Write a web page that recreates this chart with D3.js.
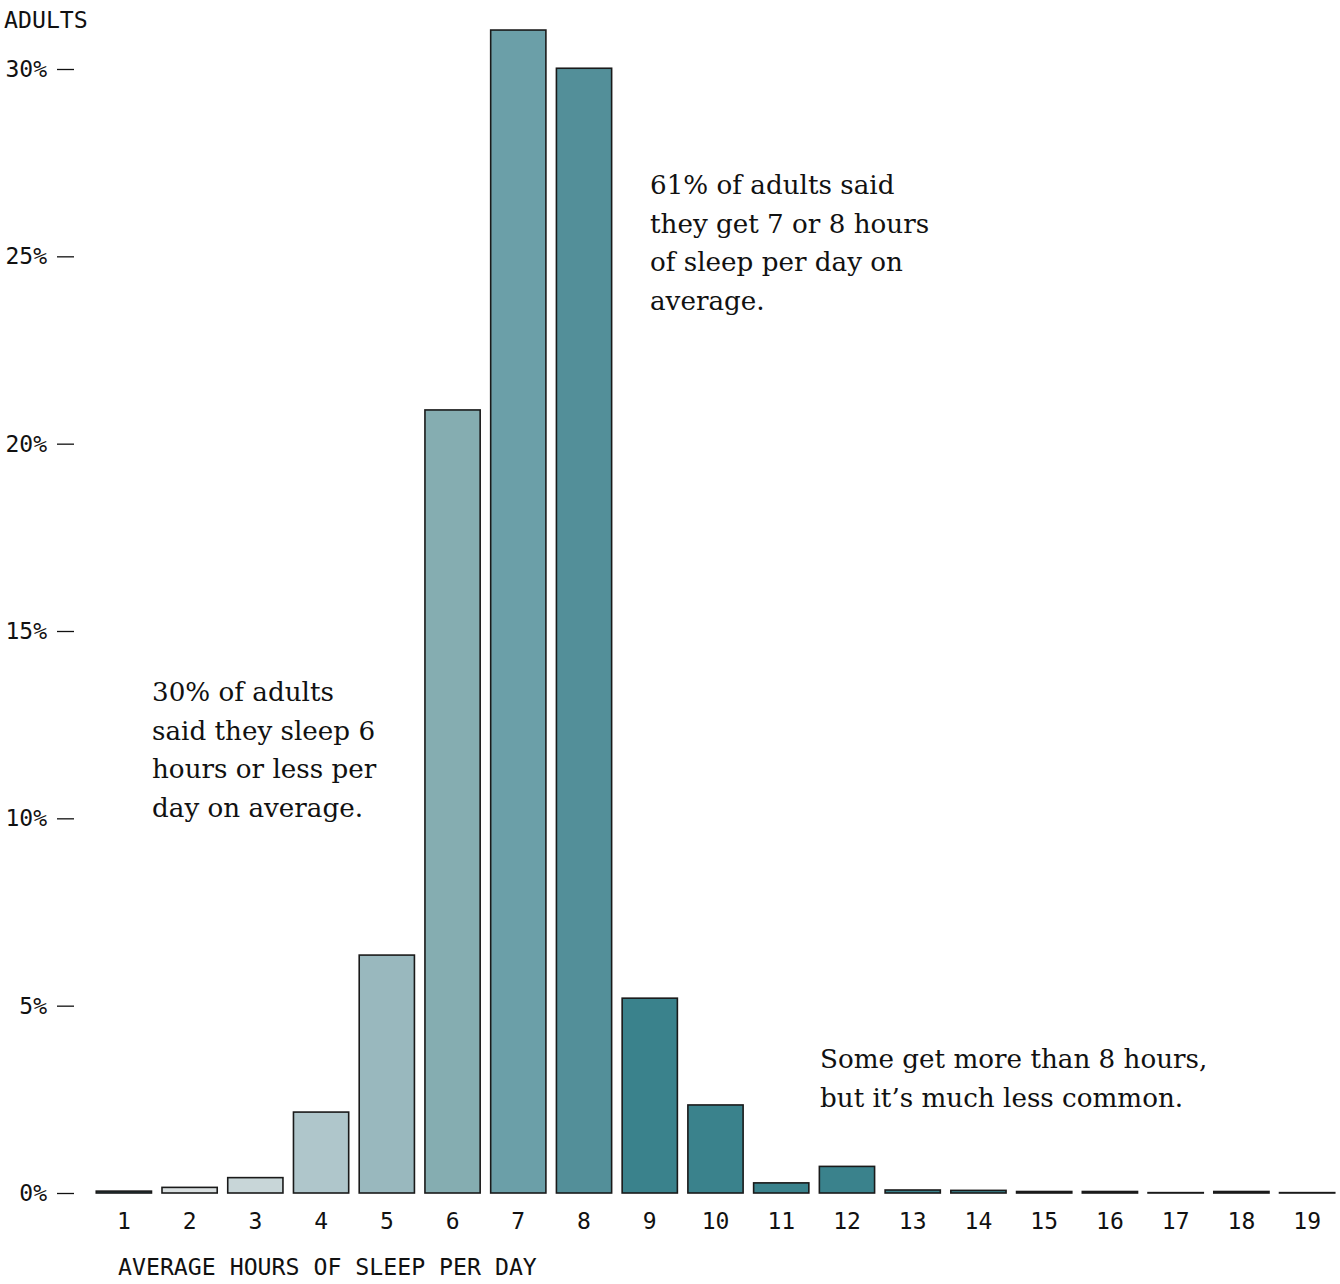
<!DOCTYPE html>
<html><head><meta charset="utf-8">
<script src="https://cdn.jsdelivr.net/npm/d3@7"></script>
<style>
body{margin:0;background:#fff;}
svg{display:block;}
.mono{font-family:"DejaVu Sans Mono",monospace;}
.serif{font-family:"DejaVu Serif",serif;}
</style></head>
<body>
<svg id="chart" width="1340" height="1284"></svg>
<script>
const hours = [1,2,3,4,5,6,7,8,9,10,11,12,13,14,15,16,17,18,19];
const percents = [0.05,0.15,0.41,2.16,6.35,20.9,31.04,30.02,5.2,2.35,0.27,0.71,0.08,0.07,0.04,0.04,0.01,0.04,0.01];
const barColors = ["#2a5c63","#d9dfe0","#c8d6d8","#afc6cb","#99b8be","#85adb1","#6b9fa8","#538f99","#3a828c","#3a828c","#3a828c","#3a828c","#3a828c","#3a828c","#3a828c","#3a828c","#3a828c","#3a828c","#3a828c"];
const yTicks = [0,5,10,15,20,25,30];
const yTitle = "ADULTS";
const xTitle = "AVERAGE HOURS OF SLEEP PER DAY";
const notes = [
  {lines:["61% of adults said","they get 7 or 8 hours","of sleep per day on","average."], x:650, y:194},
  {lines:["30% of adults","said they sleep 6","hours or less per","day on average."], x:152, y:701},
  {lines:["Some get more than 8 hours,","but it’s much less common."], x:820, y:1068}
];

const svg = d3.select("#chart");
const x = d3.scaleBand().domain(hours).range([91,1340]).paddingInner(0.16).paddingOuter(0.08);
const y = d3.scaleLinear().domain([0,30]).range([1193,69]);

// bars
svg.append("g").selectAll("rect").data(hours).join("rect")
  .attr("x", d => x(d))
  .attr("width", x.bandwidth())
  .attr("y", (d,i) => y(percents[i]))
  .attr("height", (d,i) => y(0) - y(percents[i]))
  .attr("fill", (d,i) => barColors[i])
  .attr("stroke", "#1a1a1a")
  .attr("stroke-width", 1.6);

// y axis
const yAxis = svg.append("g").attr("transform","translate(74,0)")
  .call(d3.axisLeft(y).tickValues(yTicks).tickFormat(d => d + "%").tickSize(17).tickPadding(10));
yAxis.select(".domain").remove();
yAxis.selectAll("line").attr("stroke","#111").attr("stroke-width",1.3);
yAxis.selectAll("text").attr("class","mono").style("font-size","23px").attr("fill","#111");

// x axis
const xAxis = svg.append("g").attr("transform","translate(0,1193)")
  .call(d3.axisBottom(x).tickSize(0).tickPadding(20));
xAxis.select(".domain").remove();
xAxis.selectAll("text").attr("class","mono").style("font-size","23px").attr("fill","#111");

svg.append("text").attr("class","mono").attr("x",4).attr("y",28)
  .style("font-size","23.2px").attr("fill","#111").text(yTitle);
svg.append("text").attr("class","mono").attr("x",118).attr("y",1275)
  .style("font-size","23.2px").attr("fill","#111").text(xTitle);

// annotations
notes.forEach(n => {
  const t = svg.append("text").attr("class","serif").attr("x",n.x).attr("y",n.y)
    .style("font-size","26.2px").attr("fill","#111");
  n.lines.forEach((l,i) => t.append("tspan").attr("x",n.x).attr("dy", i===0?0:38.7).text(l));
});
</script>
</body></html>
